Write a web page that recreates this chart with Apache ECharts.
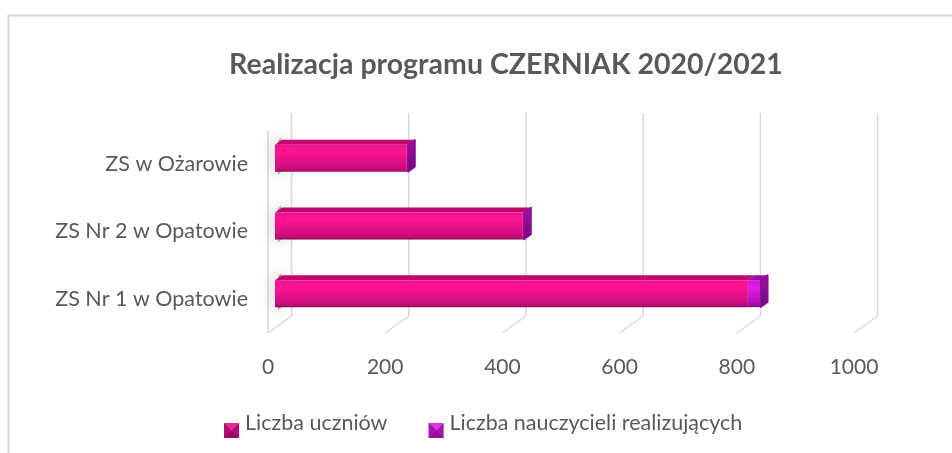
<!DOCTYPE html>
<html>
<head>
<meta charset="utf-8">
<style>
html, body { margin: 0; padding: 0; background: #fff; }
#chart { width: 952px; height: 453px; }
</style>
<script src="https://cdn.jsdelivr.net/npm/echarts@6/dist/echarts.min.js"></script>
</head>
<body>
<div id="chart"></div>
<script>
var categories = ['ZS Nr 1 w Opatowie', 'ZS Nr 2 w Opatowie', 'ZS w Ożarowie'];
var uczniowie = [807, 423, 225];
var nauczyciele = [22, 2, 2];
var xTicks = [0, 200, 400, 600, 800, 1000];

var chart = echarts.init(document.getElementById('chart'));

// depth of the fake 3d box
var wallDx = 23.6, wallDy = -17;
var barShiftX = 7, barShiftY = -5.5, capDx = 7, capDy = -5;
var barHalf = 13.5;

// legend swatch sits below the text centre, empty top part of the path pushes it down
var legendIcon = 'path://M0,0 L0,0 M0,14 L15,14 L15,29 L0,29 Z';

function grad(stops) {
  return new echarts.graphic.LinearGradient(0, 0, 0, 1, stops);
}

function renderWalls(params, api) {
  var p = api.coord([api.value(0), 0]);
  var x = p[0], bottom = params.coordSys.y + params.coordSys.height, top = params.coordSys.y;
  var line = { stroke: '#d9d9d9', lineWidth: 1.5 };
  var kids = [
    { type: 'line', shape: { x1: x, y1: bottom, x2: x + wallDx, y2: bottom + wallDy }, style: line },
    { type: 'line', shape: { x1: x + wallDx, y1: bottom + wallDy, x2: x + wallDx, y2: top + wallDy }, style: line }
  ];
  if (api.value(0) === 0) {
    kids.push({ type: 'line', shape: { x1: x, y1: top, x2: x, y2: bottom }, style: line });
  }
  return { type: 'group', children: kids };
}

function renderShadow(params, api) {
  var p = api.coord([0, api.value(0)]);
  var x = p[0] + barShiftX, y = p[1] + barShiftY;
  return {
    type: 'polygon',
    shape: { points: [[x + 3, y - barHalf - 4], [x + 6, y - barHalf - 7], [x + 6, y + barHalf], [x + 3, y + barHalf + 3]] },
    style: { fill: '#a8a8a8', shadowBlur: 16, shadowColor: '#555555' }
  };
}

function renderBox(colors, getStart, getValue) {
  return function (params, api) {
    var i = params.dataIndex;
    var c = api.value(0);
    var a = api.coord([getStart(i), c]);
    var b = api.coord([getStart(i) + getValue(i), c]);
    var x0 = a[0] + barShiftX, x1 = b[0] + barShiftX;
    var y0 = a[1] + barShiftY - barHalf, y1 = a[1] + barShiftY + barHalf;
    var kids = [
      { type: 'polygon', shape: { points: [[x0, y0], [x0 + capDx, y0 + capDy], [x1 + capDx, y0 + capDy], [x1, y0]] }, style: { fill: colors.top } },
      { type: 'rect', shape: { x: x0, y: y0, width: x1 - x0, height: y1 - y0 }, style: { fill: grad(colors.front) } }
    ];
    if (colors.end) {
      kids.push({
        type: 'polygon',
        shape: { points: [[x1, y0], [x1 + capDx, y0 + capDy], [x1 + capDx, y1 + capDy], [x1, y1]] },
        style: { fill: grad(colors.side), stroke: '#8a0c90', lineWidth: 1.5, lineJoin: 'round' }
      });
    }
    return { type: 'group', children: kids };
  };
}

var pinkBox = {
  top: '#c2056f',
  front: [{ offset: 0, color: '#f0128c' }, { offset: 0.25, color: '#ff1493' }, { offset: 0.8, color: '#d30d80' }, { offset: 0.95, color: '#b50a6e' }, { offset: 1, color: '#7e0650' }]
};
var purpleBox = {
  end: true,
  top: '#9a0f9e',
  front: [{ offset: 0, color: '#d317d8' }, { offset: 0.3, color: '#e01fe6' }, { offset: 0.85, color: '#b012b6' }, { offset: 1, color: '#7c0a80' }],
  side: [{ offset: 0, color: '#a010a5' }, { offset: 1, color: '#6d0a72' }]
};

// bevelled legend swatch: four triangles over the legend's rect
function swatch(x, y, s, light, dark) {
  var m = [x + s / 2, y + s / 2];
  function tri(a, b, fill) {
    return { type: 'polygon', silent: true, z: 10, shape: { points: [a, b, m] }, style: { fill: fill } };
  }
  return [
    tri([x, y], [x + s, y], light),
    tri([x, y], [x, y + s], dark),
    tri([x + s, y], [x + s, y + s], dark),
    tri([x, y + s], [x + s, y + s], 'rgba(60,0,50,0.45)')
  ];
}

var option = {
  animation: false,
  backgroundColor: '#fff',
  textStyle: { fontFamily: 'Lato' },
  title: {
    text: 'Realizacja programu CZERNIAK 2020/2021',
    left: 501,
    top: 45,
    textAlign: 'center',
    textStyle: { color: '#595959', fontSize: 28.5, fontWeight: 'bold', fontFamily: 'Lato' }
  },
  legend: {
    left: 224,
    top: 409,
    padding: 0,
    itemWidth: 15,
    itemHeight: 29,
    itemGap: 41,
    icon: legendIcon,
    textStyle: { color: '#595959', fontSize: 21.5, fontFamily: 'Lato', padding: [0, 0, 0, 1] },
    data: [
      { name: 'Liczba uczniów', itemStyle: { color: '#e0108a' } },
      { name: 'Liczba nauczycieli realizujących', itemStyle: { color: '#d51bdb' } }
    ]
  },
  grid: { left: 268, top: 130, width: 586, height: 203 },
  xAxis: {
    type: 'value', min: 0, max: 1000, interval: 200,
    axisLine: { show: false }, axisTick: { show: false }, splitLine: { show: false },
    axisLabel: { color: '#595959', fontSize: 21, margin: 24, fontFamily: 'Lato', formatter: function (v) { return String(v); } }
  },
  yAxis: {
    type: 'category', data: categories,
    axisLine: { show: false }, axisTick: { show: false },
    axisLabel: { color: '#595959', fontSize: 21.5, margin: 20, fontFamily: 'Lato', padding: [5, 0, 0, 0] }
  },
  graphic: {
    elements: [
      { type: 'polyline', silent: true, z: -1, shape: { points: [[8.5, 453], [8.5, 15.5], [952, 15.5]] }, style: { fill: null, stroke: '#d9d9d9', lineWidth: 2 } }
    ].concat(
      swatch(224, 423, 15, 'rgba(255,255,255,0.12)', 'rgba(90,0,60,0.3)'),
      swatch(429, 423, 15, 'rgba(255,255,255,0.12)', 'rgba(70,0,80,0.3)')
    )
  },
  series: [
    { type: 'custom', name: 'walls', z: 1, silent: true, renderItem: renderWalls, encode: { x: 0 }, data: xTicks.map(function (t) { return [t]; }) },
    { type: 'custom', name: 'shadow', z: 2, silent: true, clip: false, renderItem: renderShadow, encode: { y: 0 }, data: categories.map(function (c, i) { return [i]; }) },
    {
      type: 'custom', name: 'Liczba uczniów', z: 3,
      renderItem: renderBox(pinkBox, function () { return 0; }, function (i) { return uczniowie[i]; }),
      encode: { y: 0 }, data: categories.map(function (c, i) { return [i]; })
    },
    {
      type: 'custom', name: 'Liczba nauczycieli realizujących', z: 4,
      renderItem: renderBox(purpleBox, function (i) { return uczniowie[i]; }, function (i) { return nauczyciele[i]; }),
      encode: { y: 0 }, data: categories.map(function (c, i) { return [i]; })
    }
  ]
};

chart.setOption(option);
</script>
</body>
</html>
